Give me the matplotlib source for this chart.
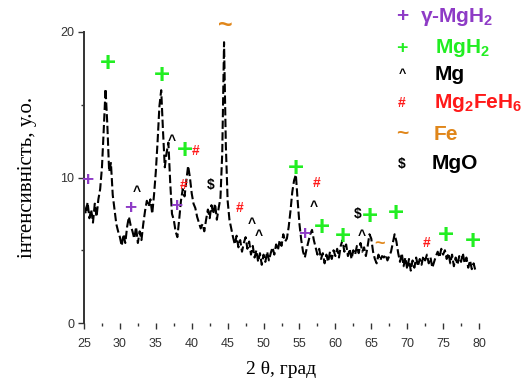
import numpy as np
import matplotlib
matplotlib.use("Agg")
import matplotlib.pyplot as plt
from matplotlib.ticker import MultipleLocator

plt.rcParams['font.family'] = ['Liberation Sans', 'DejaVu Sans']
plt.rcParams['mathtext.fontset'] = 'custom'
plt.rcParams['mathtext.rm'] = 'Liberation Sans:bold'
plt.rcParams['mathtext.bf'] = 'Liberation Sans:bold'
plt.rcParams['mathtext.default'] = 'regular'

# ---- data ----
theta_start = 25.0
theta_step = 0.25
intensity = [
    8.1, 7.5, 8.3, 7.2, 7.8, 6.9, 8.2, 7.3, 8.5, 9.2, 10.7, 13.3, 16.1, 13.6, 10.4, 11.0, 8.8, 7.8, 6.8, 6.3,
    5.9, 5.3, 6.1, 5.5, 6.6, 7.3, 6.7, 6.3, 5.8, 6.6, 5.5, 6.3, 5.7, 6.8, 7.7, 8.4, 8.0, 8.5, 7.5, 8.8,
    10.4, 12.5, 14.9, 16.0, 13.2, 10.7, 11.7, 12.4, 9.7, 7.5, 7.1, 6.3, 5.9, 7.1, 8.4, 9.2, 8.7, 9.8, 10.8, 10.0,
    8.9, 8.2, 7.9, 7.3, 6.9, 6.5, 6.8, 6.3, 7.1, 7.8, 7.2, 8.1, 7.5, 8.2, 7.1, 7.9, 8.6, 11.7, 19.3, 12.2,
    8.4, 7.1, 6.5, 5.9, 5.4, 6.0, 5.2, 5.7, 4.9, 5.5, 5.9, 5.1, 5.6, 4.7, 5.3, 4.5, 5.0, 4.2, 4.8, 4.0,
    4.7, 4.2, 4.9, 4.3, 4.8, 5.2, 4.7, 5.4, 5.0, 5.7, 5.3, 6.1, 5.6, 5.8, 6.6, 7.7, 9.0, 9.8, 10.2, 8.4,
    6.8, 5.7, 4.9, 4.5, 5.1, 5.6, 6.1, 6.4, 5.7, 5.2, 4.7, 5.1, 4.4, 4.8, 4.1, 4.7, 4.2, 4.9, 4.4, 5.0,
    4.6, 5.1, 4.5, 5.3, 5.7, 4.9, 5.4, 4.6, 5.1, 4.4, 5.0, 4.7, 5.3, 4.8, 5.5, 4.9, 5.2, 4.6, 5.3, 6.1,
    5.8, 4.9, 4.4, 4.1, 4.7, 4.3, 4.6, 4.5, 4.7, 4.3, 4.6, 4.9, 5.5, 6.1, 5.6, 4.8, 4.2, 4.8, 3.9, 4.5,
    3.7, 4.4, 3.6, 4.3, 3.8, 4.5, 3.9, 4.4, 4.0, 4.6, 4.3, 4.7, 4.1, 4.5, 3.8, 4.2, 4.6, 4.9, 4.5, 5.1,
    4.7, 5.0, 4.4, 4.8, 4.1, 4.7, 3.9, 4.5, 4.0, 4.6, 4.2, 4.8, 4.1, 4.5, 3.8, 4.3, 3.7, 4.1, 3.6,
]
two_theta = theta_start + theta_step * np.arange(len(intensity))

# phase markers (2theta, intensity)
gamma_mgh2_x = [25.5, 31.5, 37.9, 55.7]
gamma_mgh2_y = [9.8, 7.9, 8.0, 6.1]
mgh2_x = [28.3, 35.9, 39.0, 54.5, 58.1, 61.1, 64.8, 68.4, 75.4, 79.1]
mgh2_y = [17.8, 17.0, 11.8, 10.6, 6.5, 5.9, 7.3, 7.5, 6.0, 5.6]
mg_x = [32.4, 37.2, 48.3, 49.4, 57.0, 63.7]
mg_y = [9.0, 12.5, 6.8, 6.0, 8.0, 6.0]
mg2feh6_x = [40.5, 38.9, 46.6, 57.4, 72.7]
mg2feh6_y = [11.8, 9.5, 7.9, 9.6, 5.5]
fe_x = [44.7, 66.1]
fe_y = [20.4, 5.4]
mgo_x = [42.7, 63.1]
mgo_y = [9.5, 7.5]

legend_labels = ["γ-MgH$_2$", "MgH$_2$", "Mg", "Mg$_2$FeH$_6$", "Fe", "MgO"]
legend_symbols = ["+", "+", "^", "#", "~", r"\$"]

x_ticks = [25, 30, 35, 40, 45, 50, 55, 60, 65, 70, 75, 80]
y_ticks = [0, 10, 20]

purple = '#8E3BC6'
green = '#22EE22'
red = '#FF1A1A'
orange = '#E0861A'
black = '#000000'

W, H = 528, 383
fig = plt.figure(figsize=(W / 100, H / 100), dpi=100)
ax = fig.add_axes([84 / W, 1 - 323 / H, (479 - 84) / W, (323 - 32) / H])

ax.plot(two_theta, intensity, color='black', lw=1.5, linestyle=(0, (4, 1.6)))

ax.set_xlim(25, 80)
ax.set_ylim(0, 20)
ax.set_xticks(x_ticks)
ax.set_yticks(y_ticks)
ax.xaxis.set_minor_locator(MultipleLocator(2.5))
ax.yaxis.set_minor_locator(MultipleLocator(5))
for s in ['top', 'right', 'bottom']:
    ax.spines[s].set_visible(False)
ax.spines['left'].set_linewidth(1.4)
ax.spines['left'].set_color('#333333')
ax.tick_params(axis='both', which='major', direction='out', length=4, width=1.0,
               labelsize=9, colors='#333333')
ax.tick_params(axis='both', which='minor', direction='out', length=2, width=1.0, colors='#333333')
ax.tick_params(axis='x', pad=7)
ax.tick_params(axis='y', pad=3)

ax.set_ylabel("інтенсивність, у.о.", family=['Liberation Serif', 'DejaVu Serif'],
              fontsize=15, labelpad=17)
ax.set_xlabel("2 θ, град", family=['Liberation Serif', 'DejaVu Serif'],
              fontsize=14, labelpad=8)


def put(xs, ys, sym, color, size):
    for xv, yv in zip(xs, ys):
        ax.text(xv, yv, sym, color=color, fontsize=size, fontweight='bold',
                ha='center', va='center', clip_on=False)


put(gamma_mgh2_x, gamma_mgh2_y, '+', purple, 15)
put(mgh2_x, mgh2_y, '+', green, 20)
put(mg_x, mg_y, '^', black, 10)
put(mg2feh6_x, mg2feh6_y, '#', red, 10)
put(fe_x[:1], fe_y[:1], '~', orange, 18)
put(fe_x[1:], fe_y[1:], '~', orange, 13)
put(mgo_x, mgo_y, r'\$', black, 10)

# legend as text column
colors = [purple, green, black, red, orange, black]
sym_sizes = [15, 14, 9, 10, 15, 10]
row_y = [17, 48, 74, 103, 134, 164]
label_x = [420, 435, 435, 434, 434, 432]
for lab, sym, c, ss, yy, lx in zip(legend_labels, legend_symbols, colors, sym_sizes, row_y, label_x):
    fig.text(402 / W, 1 - yy / H, sym, color=c, fontsize=ss, fontweight='bold',
             ha='center', va='center')
    fig.text(lx / W, 1 - yy / H, lab, color=c, fontsize=15, fontweight='bold',
             ha='left', va='center')

fig.savefig('out.png', dpi=100)
